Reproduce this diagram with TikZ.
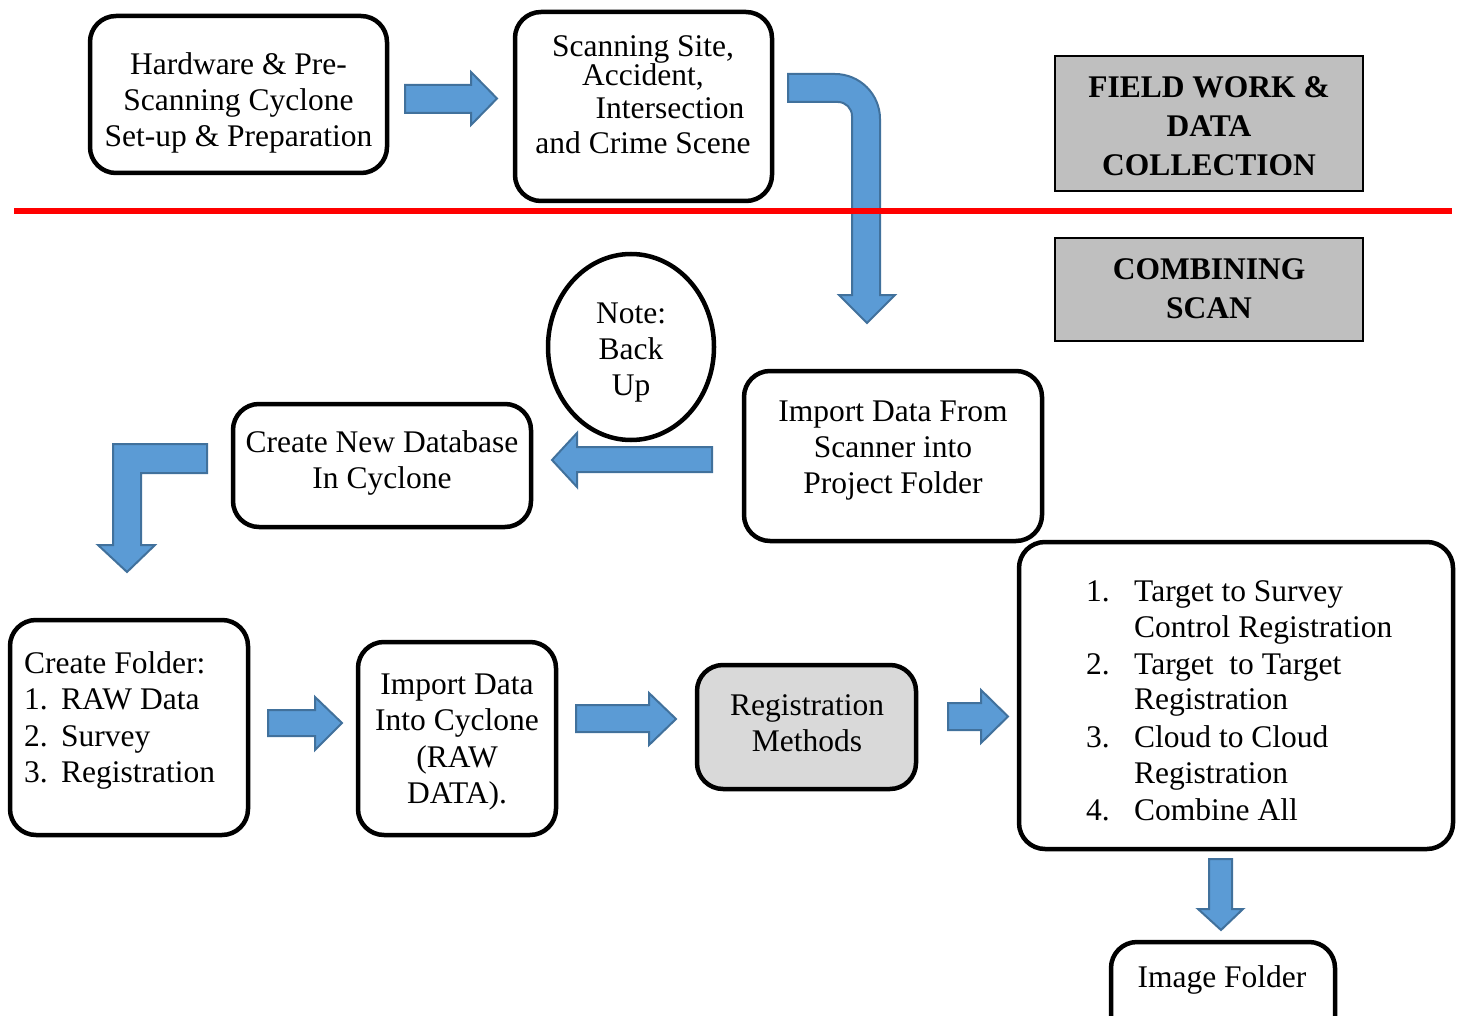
\documentclass[tikz,border=0pt]{standalone}
\usepackage{fontspec}
\setmainfont{Liberation Serif}
\usetikzlibrary{shapes.geometric}
\definecolor{arrfill}{RGB}{91,155,213}
\definecolor{arrline}{RGB}{65,113,156}
\definecolor{hdrgray}{RGB}{191,191,191}
\definecolor{reggray}{RGB}{217,217,217}
\begin{document}
\begin{tikzpicture}[x=1pt,y=-1pt,
  txt/.style={font=\fontsize{31.5}{36}\selectfont, inner sep=0pt, align=center},
  rbox/.style={draw, line width=4.5pt, rounded corners=26pt, inner sep=0pt},
  hdr/.style={draw, line width=2.5pt, fill=hdrgray, inner sep=0pt},
  blk/.style={fill=arrfill, draw=arrline, line width=2pt, line join=miter}]
\useasboundingbox (0,0) rectangle (1463,1016);

% boxes
\node[rbox, minimum width=297pt, minimum height=157pt] (b1) at (238.5,94.5) {};
\node[txt] (b1t) at (238.5,103) {Hardware \& Pre-\\Scanning Cyclone\\Set-up \& Preparation};

\node[rbox, minimum width=257pt, minimum height=189pt] (b2) at (643.5,106.5) {};
\node[txt] (b2t) at (643,95) {Scanning Site,\\[-7pt]Accident,\\[-3pt]\hspace*{54pt}Intersection\\[-1pt]and Crime Scene};

\node[hdr, minimum width=308pt, minimum height=135pt] (h1) at (1209,123.5) {};
\node[txt, font=\fontsize{31.5}{36}\selectfont\bfseries] (h1t) at (1209,126) {FIELD WORK \&\\[3pt]DATA\\[3pt]COLLECTION};

\node[hdr, minimum width=308pt, minimum height=103pt] (h2) at (1209,289.5) {};
\node[txt, font=\fontsize{31.5}{36}\selectfont\bfseries] (h2t) at (1209,289) {COMBINING\\[3pt]SCAN};

\node[rbox, minimum width=298pt, minimum height=170pt] (b3) at (893,456) {};
\node[txt] (b3t) at (893,451) {Import Data From\\Scanner into\\Project Folder};

\node[rbox, minimum width=298pt, minimum height=123pt] (b4) at (382,465.5) {};
\node[txt] (b4t) at (382,463) {Create New Database\\In Cyclone};

\node[draw, ellipse, line width=4.5pt, minimum width=166pt, minimum height=186pt, inner sep=0pt] (note) at (631,347) {};
\node[txt] (notet) at (631,353) {Note:\\Back\\Up};

\node[rbox, minimum width=238pt, minimum height=215pt] (b5) at (129,727.5) {};
\node[txt, align=left, anchor=west] (b5t) at (24,720.5) {Create Folder:\\\makebox[37pt][l]{1.}RAW Data\\[0.5pt]\makebox[37pt][l]{2.}Survey\\[0.5pt]\makebox[37pt][l]{3.}Registration};

\node[rbox, minimum width=198pt, minimum height=193pt] (b6) at (457,738.5) {};
\node[txt] (b6t) at (457,742.5) {Import Data\\Into Cyclone\\[0.5pt](RAW\\[0.5pt]DATA).};

\node[rbox, fill=reggray, minimum width=219pt, minimum height=124pt] (b7) at (806.5,727) {};
\node[txt] (b7t) at (807,723) {Registration\\Methods};

\node[rbox, minimum width=434pt, minimum height=307pt] (b8) at (1236,695.5) {};
\node[txt, align=left, anchor=west] (b8t) at (1086,701) {\makebox[48pt][l]{1.}Target to Survey\\\hspace*{48pt}Control Registration\\[1pt]\makebox[48pt][l]{2.}Target\ \ to Target\\[-1pt]\hspace*{48pt}Registration\\[1.5pt]\makebox[48pt][l]{3.}Cloud to Cloud\\[0.5pt]\hspace*{48pt}Registration\\[0.5pt]\makebox[48pt][l]{4.}Combine All};

\node[rbox, minimum width=224pt, minimum height=100pt] (b9) at (1223,992) {};
\node[txt] (b9t) at (1222,980) {Image Folder};

% block arrows
\path[blk] (405,85) -- (471,85) -- (471,72) -- (497,98.5) -- (471,125) -- (471,113) -- (405,113) -- cycle;

\path[blk] (788,74) -- (835,74) .. controls (859.8,74) and (880,94.2) .. (880,119)
  -- (880,295) -- (895,295) -- (867,323) -- (839,295) -- (852,295) -- (852,116)
  .. controls (852,108.3) and (845.7,102) .. (838,102) -- (788,102) -- cycle;

\path[blk] (712,447) -- (577,447) -- (577,433) -- (552,460) -- (577,487) -- (577,472) -- (712,472) -- cycle;

\path[blk] (207,444) -- (113,444) -- (113,545) -- (98,545) -- (127,572) -- (155,545) -- (141,545) -- (141,473) -- (207,473) -- cycle;

\path[blk] (268,710) -- (315,710) -- (315,697) -- (342,723) -- (315,750) -- (315,736) -- (268,736) -- cycle;

\path[blk] (576,705) -- (649,705) -- (649,693) -- (676,719) -- (649,745) -- (649,732) -- (576,732) -- cycle;

\path[blk] (948,703) -- (981,703) -- (981,690) -- (1008,716.5) -- (981,743) -- (981,730) -- (948,730) -- cycle;

\path[blk] (1209,859) -- (1232,859) -- (1232,909) -- (1243,909) -- (1221,930) -- (1198,909) -- (1209,909) -- cycle;

% red divider (drawn over the bent arrow)
\coordinate (redL) at (14,211);
\coordinate (redR) at (1452,211);
\draw[red, line width=6pt] (redL) -- (redR);
\end{tikzpicture}
\end{document}
